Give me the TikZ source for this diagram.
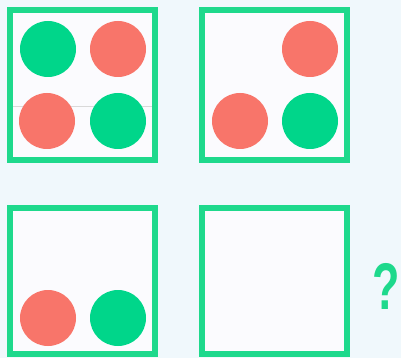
\documentclass[tikz,border=0pt]{standalone}
\usepackage{fontspec}
\setsansfont{Liberation Sans}
\usetikzlibrary{positioning}
\definecolor{bgblue}{HTML}{F0F8FC}
\definecolor{panelbg}{HTML}{FBFBFE}
\definecolor{framegreen}{HTML}{1ED98C}
\definecolor{dotgreen}{HTML}{00D68A}
\definecolor{dotred}{HTML}{F8756A}
\tikzset{panel/.style={draw=framegreen,fill=panelbg,line width=6pt,
minimum width=145pt,inner sep=0pt},
dot/.style={circle,minimum size=56pt,inner sep=0pt},
g dot/.style={dot,fill=dotgreen},
r dot/.style={dot,fill=dotred}}

\begin{document}
\begin{tikzpicture}[x=1pt,y=-1pt]
\fill[bgblue] (0,0) rectangle (401,358);
\useasboundingbox (0,0) rectangle (401,358);
\node[panel,minimum height=150pt] (p1) at (82.5,85) {};
\node[panel,minimum height=150pt] (p2) at (274.5,85) {};
\node[panel,minimum height=146pt] (p3) at (82.5,281) {};
\node[panel,minimum height=146pt] (p4) at (274.5,281) {};

\draw[black!15,line width=0.8pt] (13,106) -- (152,106);

\node[g dot] (a1) at (48,49) {};
\node[r dot] (a2) at (118,49) {};
\node[r dot] (a3) at (47,121) {};
\node[g dot] (a4) at (118,121) {};

\node[r dot] (b1) at (310,49) {};
\node[r dot] (b2) at (240,121) {};
\node[g dot] (b3) at (310,121) {};

\node[r dot] (c1) at (48,318) {};
\node[g dot] (c2) at (118,318) {};

\node[text=framegreen,font=\sffamily\bfseries\fontsize{66}{66}\selectfont,
xscale=0.68,inner sep=0pt] (q) at (386.5,286) {?};
\end{tikzpicture}
\end{document}
